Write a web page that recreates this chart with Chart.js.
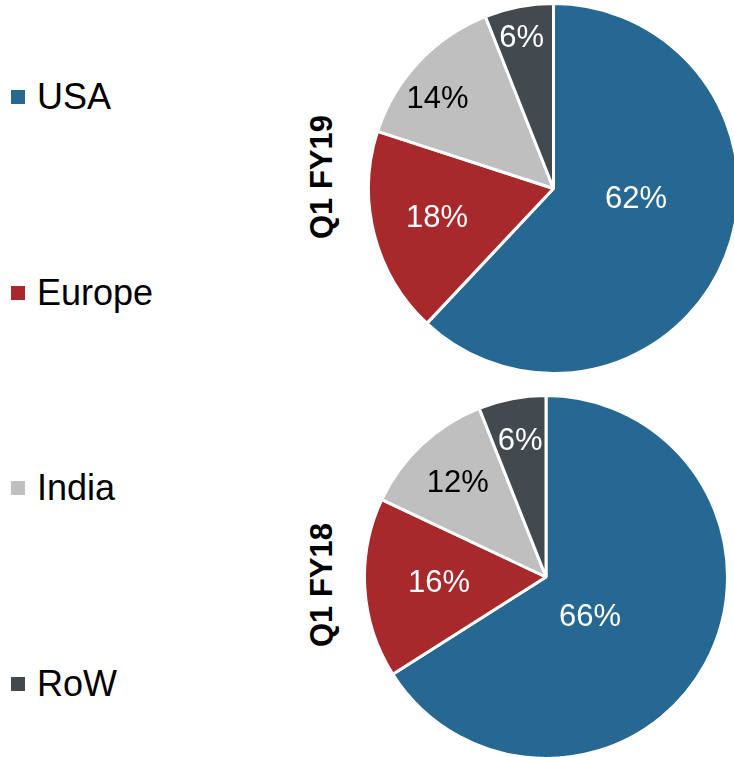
<!DOCTYPE html>
<html>
<head>
<meta charset="utf-8">
<script src="https://cdn.jsdelivr.net/npm/chart.js@4"></script>
<style>
    html, body { margin: 0; padding: 0; background: #fff; overflow: hidden; width: 734px; height: 757px; }
    body { position: relative; font-family: "Liberation Sans", Arial, sans-serif; }
    .legend-item { position: absolute; left: 11px; height: 40px; display: flex; align-items: center; font-size: 36px; color: #000; }
    .legend-item span.box { width: 14px; height: 14px; margin-right: 12px; display: inline-block; }
    .period { position: absolute; font-weight: bold; font-size: 31px; white-space: nowrap; transform: translate(-50%, -50%) rotate(-90deg); }
    .pie-wrap { position: absolute; }
</style>
</head>
<body>
<div id="legend"></div>
<div class="period" style="left:322px; top:177px;">Q1 FY19</div>
<div class="period" style="left:322px; top:585px;">Q1 FY18</div>
<div class="pie-wrap" style="left:367px; top:2px; width:373px; height:373px;"><canvas id="pieFY19"></canvas></div>
<div class="pie-wrap" style="left:363px; top:394px; width:366px; height:366px;"><canvas id="pieFY18"></canvas></div>
<script>
const regions = ['USA', 'Europe', 'India', 'RoW'];
const shareFY19 = [62, 18, 14, 6];
const shareFY18 = [66, 16, 12, 6];
const regionColors = ['#276892', '#a8292c', '#bfbfbf', '#434a4f'];
const labelColors = ['#ffffff', '#ffffff', '#000000', '#ffffff'];

// legend on the left
const legendTops = [77, 273, 468, 664];
const legendDiv = document.getElementById('legend');
regions.forEach((r, i) => {
    const item = document.createElement('div');
    item.className = 'legend-item';
    item.style.top = legendTops[i] + 'px';
    item.innerHTML = `<span class="box" style="background:${regionColors[i]}"></span>${r}`;
    legendDiv.appendChild(item);
});

// percent labels inside slices
const sliceLabels = {
    id: 'sliceLabels',
    afterDatasetsDraw(chart, args, opts) {
        const ctx = chart.ctx;
        const meta = chart.getDatasetMeta(0);
        const values = chart.data.datasets[0].data;
        ctx.save();
        ctx.font = '31px "Liberation Sans", Arial, sans-serif';
        ctx.textAlign = 'center';
        ctx.textBaseline = 'middle';
        meta.data.forEach((arc, i) => {
            const p = arc.getProps(['x', 'y', 'startAngle', 'endAngle', 'outerRadius'], true);
            const mid = (p.startAngle + p.endAngle) / 2 + (opts.angleShift[i] || 0);
            const r = p.outerRadius * opts.radius[i];
            ctx.fillStyle = labelColors[i];
            ctx.fillText(values[i] + '%', p.x + Math.cos(mid) * r, p.y + Math.sin(mid) * r);
        });
        ctx.restore();
    }
};

function makePie(id, values, labelRadius, angleShift) {
    return new Chart(document.getElementById(id), {
        type: 'pie',
        data: {
            labels: regions,
            datasets: [{
                data: values,
                backgroundColor: regionColors,
                borderColor: '#ffffff',
                borderWidth: 3
            }]
        },
        options: {
            responsive: true,
            maintainAspectRatio: false,
            animation: false,
            layout: { padding: 0 },
            plugins: {
                legend: { display: false },
                tooltip: { enabled: false },
                sliceLabels: { radius: labelRadius, angleShift: angleShift }
            }
        },
        plugins: [sliceLabels]
    });
}

makePie('pieFY19', shareFY19, [0.45, 0.65, 0.79, 0.83], [-0.25, 0, -0.1, -0.02]);
makePie('pieFY18', shareFY18, [0.33, 0.59, 0.71, 0.76], [0.24, 0, 0, 0]);
</script>
</body>
</html>
